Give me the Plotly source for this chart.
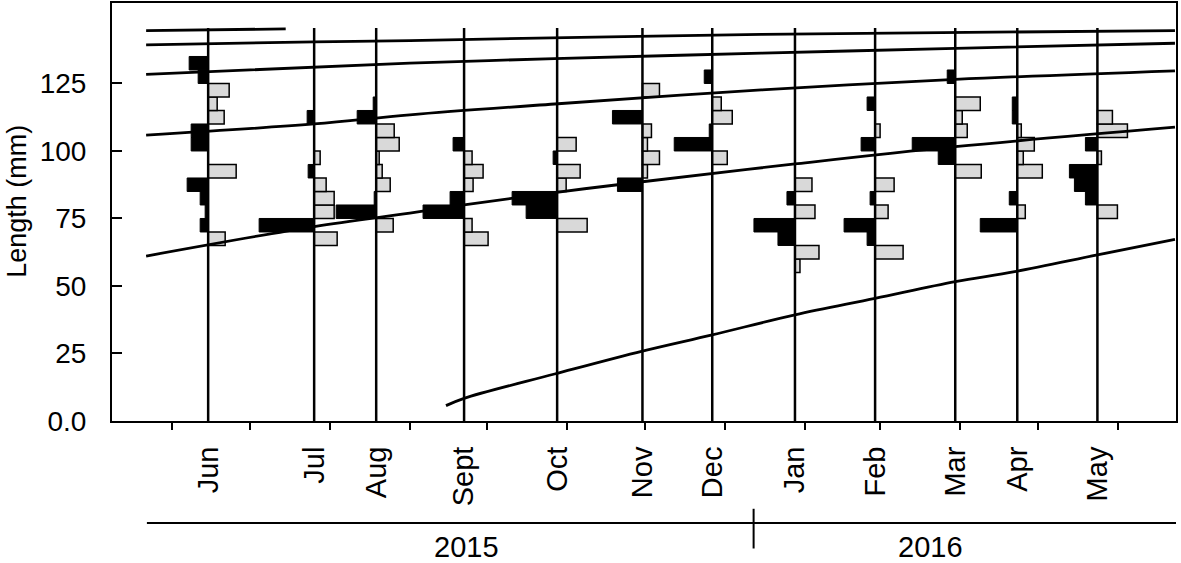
import pandas as pd
import plotly.graph_objects as go

# study day 0 = 1 June 2015
origin = pd.Timestamp("2015-06-01")

months = ["Jun", "Jul", "Aug", "Sept", "Oct", "Nov", "Dec", "Jan", "Feb", "Mar", "Apr", "May"]
sample_dates = ["2015-06-15", "2015-07-26", "2015-08-19", "2015-09-22", "2015-10-28", "2015-11-30",
                "2015-12-27", "2016-01-28", "2016-02-28", "2016-03-30", "2016-04-23", "2016-05-24"]

# lower edge of each 5 mm length class
bins = [55, 60, 65, 70, 75, 80, 85, 90, 95, 100, 105, 110, 115, 120, 125, 130]

# relative frequency per length class (dark = drawn to the left, light = to the right)
jun_dark = [0, 0, 0, 8, 3, 8, 21, 0, 0, 17, 17, 0, 0, 0, 10, 19]
jun_light = [0, 0, 17, 0, 0, 0, 0, 28, 0, 0, 0, 16, 9, 21, 0, 0]
jul_dark = [0, 0, 0, 55, 0, 0, 0, 6, 0, 0, 0, 7, 0, 0, 0, 0]
jul_light = [0, 0, 23, 0, 20, 20, 12, 0, 6, 0, 0, 0, 0, 0, 0, 0]
aug_dark = [0, 0, 0, 0, 40, 2, 0, 0, 0, 0, 0, 19, 3, 0, 0, 0]
aug_light = [0, 0, 0, 17, 0, 0, 14, 6, 3, 23, 18, 0, 0, 0, 0, 0]
sep_dark = [0, 0, 0, 0, 41, 14, 0, 0, 0, 11, 0, 0, 0, 0, 0, 0]
sep_light = [0, 0, 24, 8, 0, 0, 9, 19, 8, 0, 0, 0, 0, 0, 0, 0]
oct_dark = [0, 0, 0, 0, 31, 45, 0, 0, 4, 0, 0, 0, 0, 0, 0, 0]
oct_light = [0, 0, 0, 30, 0, 0, 9, 23, 0, 19, 0, 0, 0, 0, 0, 0]
nov_dark = [0, 0, 0, 0, 0, 0, 25, 0, 0, 0, 0, 30, 0, 0, 0, 0]
nov_light = [0, 0, 0, 0, 0, 0, 0, 5, 17, 5, 9, 0, 0, 17, 0, 0]
dec_dark = [0, 0, 0, 0, 0, 0, 0, 0, 0, 38, 3, 0, 0, 0, 8, 0]
dec_light = [0, 0, 0, 0, 0, 0, 0, 0, 15, 0, 0, 20, 9, 0, 0, 0]
jan_dark = [0, 0, 17, 41, 0, 8, 0, 0, 0, 0, 0, 0, 0, 0, 0, 0]
jan_light = [5, 24, 0, 0, 20, 0, 17, 0, 0, 0, 0, 0, 0, 0, 0, 0]
feb_dark = [0, 0, 8, 31, 0, 5, 0, 0, 0, 14, 0, 0, 8, 0, 0, 0]
feb_light = [0, 28, 0, 0, 13, 0, 19, 0, 0, 0, 5, 0, 0, 0, 0, 0]
mar_dark = [0, 0, 0, 0, 0, 0, 0, 0, 17, 43, 0, 0, 0, 0, 8, 0]
mar_light = [0, 0, 0, 0, 0, 0, 0, 26, 0, 0, 12, 7, 25, 0, 0, 0]
apr_dark = [0, 0, 0, 37, 0, 8, 0, 0, 0, 0, 0, 5, 5, 0, 0, 0]
apr_light = [0, 0, 0, 0, 8, 0, 0, 25, 6, 17, 4, 0, 0, 0, 0, 0]
may_dark = [0, 0, 0, 0, 0, 12, 23, 28, 0, 12, 0, 0, 0, 0, 0, 0]
may_light = [0, 0, 0, 0, 20, 0, 0, 0, 4, 0, 30, 15, 0, 0, 0, 0]

dark = [jun_dark, jul_dark, aug_dark, sep_dark, oct_dark, nov_dark,
        dec_dark, jan_dark, feb_dark, mar_dark, apr_dark, may_dark]
light = [jun_light, jul_light, aug_light, sep_light, oct_light, nov_light,
         dec_light, jan_light, feb_light, mar_light, apr_light, may_light]

# growth curves (cohorts)
curve_a_dates = ["2015-05-22", "2015-07-15"]
curve_a_mm = [144.6, 145.2]
curve_b_dates = ["2015-05-22", "2015-07-26", "2015-09-01", "2016-01-15", "2016-06-23"]
curve_b_mm = [139.3, 140.4, 140.9, 143.2, 144.6]
curve_c_dates = ["2015-05-22", "2015-09-01", "2015-10-27", "2016-01-15", "2016-03-30", "2016-06-23"]
curve_c_mm = [128.4, 132.5, 134.2, 136.2, 138.0, 139.9]
curve_d_dates = ["2015-05-22", "2015-07-26", "2015-09-01", "2015-10-27", "2016-01-15", "2016-03-30", "2016-06-23"]
curve_d_mm = [105.9, 110.0, 113.4, 117.4, 122.6, 126.5, 129.7]
curve_e_dates = ["2015-05-22", "2015-07-26", "2015-09-01", "2015-09-22", "2015-10-27", "2015-11-30",
                 "2016-01-28", "2016-03-30", "2016-06-23"]
curve_e_mm = [61.1, 72.0, 77.0, 80.0, 84.6, 88.6, 95.2, 101.6, 108.8]
curve_f_dates = ["2015-09-15", "2015-09-22", "2015-10-27", "2015-11-30", "2015-12-27", "2016-01-28",
                 "2016-02-28", "2016-03-30", "2016-04-22", "2016-05-24", "2016-06-23"]
curve_f_mm = [5.7, 8.4, 17.4, 25.9, 31.9, 39.3, 45.4, 51.6, 55.3, 61.5, 67.3]

years = ["2015", "2016"]


def to_day(dates):
    return [(pd.Timestamp(d) - origin).days for d in dates]


sample_days = to_day(sample_dates)
month_starts = to_day(pd.date_range("2015-06-01", "2016-06-01", freq="MS").strftime("%Y-%m-%d"))

FREQ_SCALE = 0.387   # days of x-axis per frequency unit
LINE_TOP = 145.5
FONT = "Liberation Sans, Arial, sans-serif"

fig = go.Figure()

# histogram bars
for vals_list, sign, fill, lw in [(dark, -1, "black", 1), (light, 1, "#d9d9d9", 1.5)]:
    xs, ys, bases = [], [], []
    for day, vals in zip(sample_days, vals_list):
        for b, v in zip(bins, vals):
            if v > 0:
                xs.append(sign * v * FREQ_SCALE)
                ys.append(b + 2.5)
                bases.append(day)
    fig.add_trace(go.Bar(x=xs, y=ys, base=bases, orientation="h", width=5,
                         marker=dict(color=fill, line=dict(color="black", width=lw)),
                         showlegend=False, hoverinfo="skip"))

# vertical sampling lines
vx, vy = [], []
for day in sample_days:
    vx += [day, day, None]
    vy += [0, LINE_TOP, None]
fig.add_trace(go.Scatter(x=vx, y=vy, mode="lines", line=dict(color="black", width=2.5),
                         showlegend=False, hoverinfo="skip"))

# growth curves
for dates, mm in [(curve_a_dates, curve_a_mm), (curve_b_dates, curve_b_mm), (curve_c_dates, curve_c_mm),
                  (curve_d_dates, curve_d_mm), (curve_e_dates, curve_e_mm), (curve_f_dates, curve_f_mm)]:
    fig.add_trace(go.Scatter(x=to_day(dates), y=mm, mode="lines",
                             line=dict(color="black", width=2.8, shape="spline", smoothing=1.0),
                             showlegend=False, hoverinfo="skip"))

# year bar under the month labels
fig.add_shape(type="line", xref="x", yref="paper", x0=-9.7, x1=388.4, y0=-0.244, y1=-0.244,
              line=dict(color="black", width=2))
fig.add_shape(type="line", xref="x", yref="paper", x0=225, x1=225, y0=-0.21, y1=-0.305,
              line=dict(color="black", width=2))
for txt, xd in zip(years, [114, 293.5]):
    fig.add_annotation(text=txt, x=xd, xref="x", y=-0.302, yref="paper", showarrow=False,
                       font=dict(family=FONT, size=29, color="black"), yanchor="middle")

# y-axis title
fig.add_annotation(text="Length (mm)", textangle=-90, x=-0.09, xref="paper", y=0.525, yref="paper",
                   showarrow=False, xanchor="center", yanchor="middle",
                   font=dict(family=FONT, size=27, color="black"))

fig.update_layout(
    width=1181, height=563,
    margin=dict(l=112, r=5, t=3, b=142),
    plot_bgcolor="white", paper_bgcolor="white",
    barmode="overlay",
    font=dict(family=FONT, color="black"),
)
fig.update_xaxes(
    range=[-23.2, 388.4], showgrid=False, zeroline=False, automargin=False,
    showline=True, mirror=True, linecolor="black", linewidth=2,
    tickmode="array", tickvals=sample_days, ticktext=months, ticks="",
    tickangle=-90, tickfont=dict(size=29), ticklabelstandoff=12,
    minor=dict(tickmode="array", tickvals=month_starts, ticks="outside",
               ticklen=7, tickwidth=2, tickcolor="black", showgrid=False),
)
fig.update_yaxes(
    range=[0, 154.8], showgrid=False, zeroline=False, automargin=False,
    showline=True, mirror=True, linecolor="black", linewidth=2,
    tickmode="array", tickvals=[0, 25, 50, 75, 100, 125], ticktext=["0.0", "25", "50", "75", "100", "125"],
    ticks="inside", ticklen=10, tickwidth=2, tickcolor="black",
    tickfont=dict(size=28), ticklabelstandoff=18,
)

# drop the default page margin so the figure sits at the window's corner
fig.write_html("out.html", config={"displayModeBar": False},
               post_script="document.body.style.margin='0';")
